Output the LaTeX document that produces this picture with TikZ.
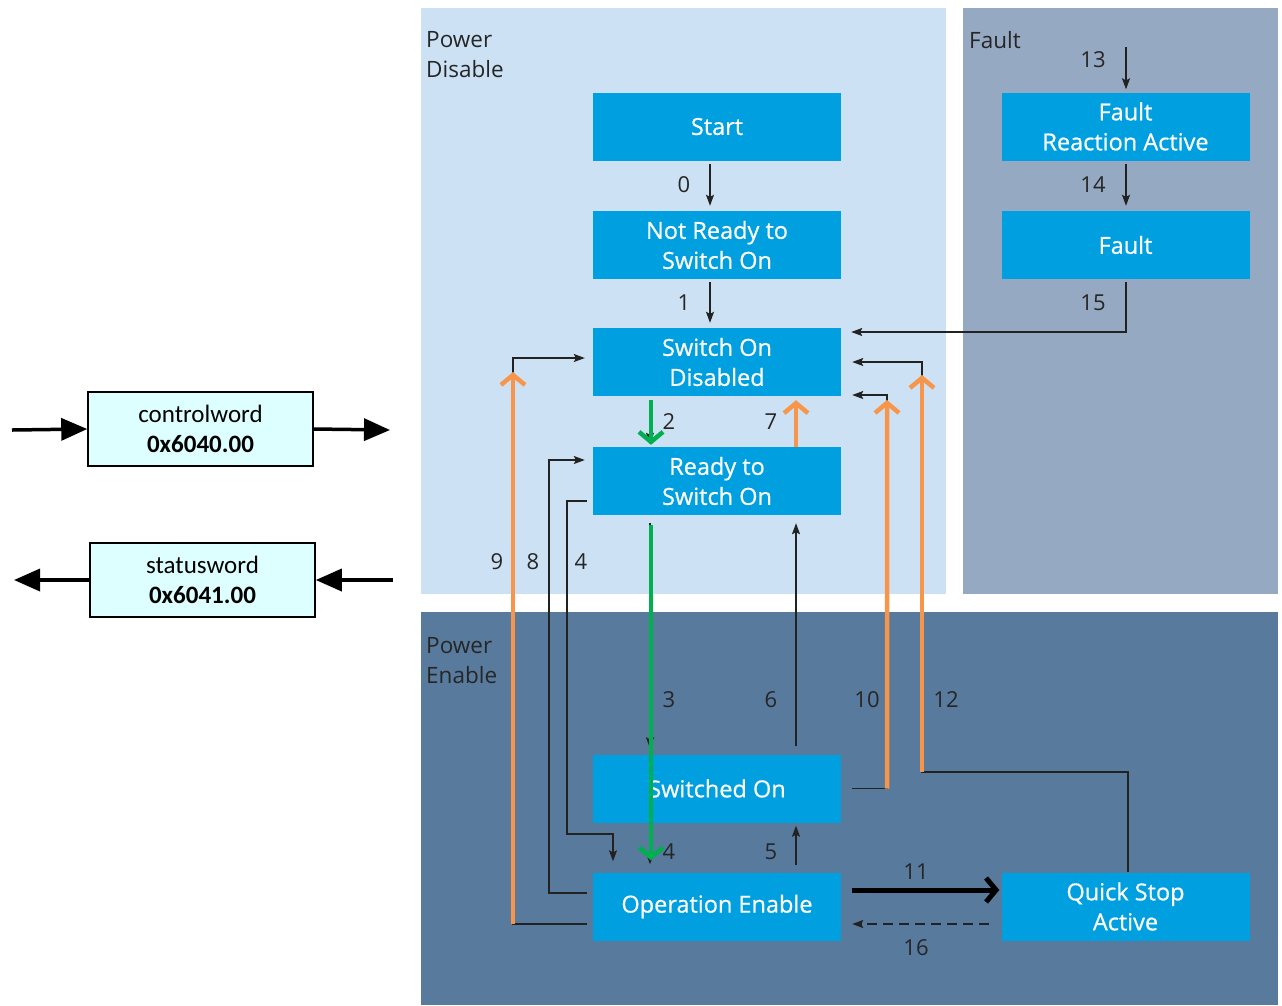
\documentclass[tikz,border=0pt]{standalone}
\usepackage{fontspec}
\setmainfont{Open Sans}
\newfontfamily\stfont{Open Sans}[FakeBold=0.6]
\newfontfamily\calibri{Carlito}
\usetikzlibrary{arrows.meta,positioning}
\definecolor{pdis}{HTML}{CCE2F4}
\definecolor{pflt}{HTML}{96A9C2}
\definecolor{pena}{HTML}{587A9D}
\definecolor{stblue}{HTML}{009FDF}
\definecolor{trorange}{HTML}{F7964A}
\definecolor{trgreen}{HTML}{00B050}
\definecolor{wordfill}{HTML}{DDFFFF}
\definecolor{trline}{HTML}{222222}
\tikzset{
  % zustaende
  st/.style={fill=stblue,text=white,minimum width=248pt,minimum height=68pt,
             inner sep=0pt,align=center,font=\stfont\fontsize{23.5}{30}\selectfont},
  panel/.style={inner sep=0pt,anchor=north west,align=left,
                font=\fontsize{22.5}{30}\selectfont,text=black!85},
  num/.style={inner sep=0pt,font=\fontsize{22}{28}\selectfont,text=black!85},
  % uebergaenge
  tr/.style={-{Stealth[length=11pt,width=8pt,inset=2pt]},draw=trline,line width=1.3pt},
  hot/.style={-{Straight Barb[length=10pt,width=24pt]},draw=trorange,line width=4.5pt},
  go/.style={-{Straight Barb[length=10pt,width=24pt]},draw=trgreen,line width=4.5pt},
  % objekte
  word/.style={draw=black,line width=1.5pt,fill=wordfill,minimum width=225pt,
               minimum height=74pt,inner sep=0pt,align=center,
               font=\calibri\fontsize{25}{30}\selectfont},
  io/.style={-{Triangle[length=26pt,width=22pt]},line width=3.5pt},
}
\begin{document}
\begin{tikzpicture}[x=1pt,y=-1pt]
  \useasboundingbox (0,0) rectangle (1282,1005);
  \fill[white] (0,0) rectangle (1282,1005);
  \fill[pdis] (421,8) rectangle (946,594);
  \fill[pflt] (963,8) rectangle (1278,594);
  \fill[pena] (421,612) rectangle (1278,1005);
  \node[panel] (lpd) at (426,31) {Power\\Disable};
  \node[panel] (lflt) at (969,31) {Fault};
  \node[panel] (lpe) at (426,637) {Power\\Enable};

  \node[st] (start) at (717,126.5) {Start};
  \node[st] (nrdy) at (717,245) {Not Ready to\\Switch On};
  \node[st] (sod) at (717,362) {Switch On\\Disabled};
  \node[st] (rtso) at (717,481) {Ready to\\Switch On};
  \node[st] (swon) at (717,788.5) {Switched On};
  \node[st] (opena) at (717,906.5) {Operation Enable};
  \node[st] (fra) at (1125.5,126.5) {Fault\\Reaction Active};
  \node[st] (flt) at (1125.5,245) {Fault};
  \node[st] (qsa) at (1125.5,906.5) {Quick Stop\\Active};

  \coordinate (in13) at (1126,47);
  \coordinate (k12) at (922,772);
  \coordinate (t12) at (922,362);
  \coordinate (k10) at (887,395);
  \coordinate (k9) at (513,358);
  \coordinate (b9) at (513,924);
  \coordinate (k8) at (549,460);
  \coordinate (k4) at (567,834);

  \draw[tr,shorten <=3pt,shorten >=5pt] ([xshift=-7pt]start.south) -- ([xshift=-7pt]nrdy.north);
  \draw[tr,shorten <=3pt,shorten >=5pt] ([xshift=-7pt]nrdy.south) -- ([xshift=-7pt]sod.north);
  \draw[tr,shorten >=3pt] (in13) -- ([xshift=0.5pt]fra.north);
  \draw[tr,shorten <=3pt,shorten >=5pt] ([xshift=0.5pt]fra.south) -- ([xshift=0.5pt]flt.north);
  \draw[tr,shorten <=3pt,shorten >=10pt] ([xshift=0.5pt]flt.south) |- ([yshift=30pt]sod.east);
  \draw[tr,shorten <=4pt,shorten >=3pt] ([xshift=-67pt]sod.south) -- ([xshift=-67pt]rtso.north);
  \draw[tr,shorten <=8pt,shorten >=6pt] ([xshift=-67pt]rtso.south) -- ([xshift=-67pt]swon.north);
  \draw[tr,shorten <=8pt,shorten >=8pt] ([xshift=79pt]swon.north) -- ([xshift=79pt]rtso.south);
  \draw[tr,shorten >=8pt] ([xshift=-67pt]swon.south) -- ([xshift=-67pt]opena.north);
  \draw[tr,shorten <=7pt,shorten >=3pt] ([xshift=79pt]opena.north) -- ([xshift=79pt]swon.south);
  \draw[tr,shorten >=11pt] ([xshift=2.5pt]qsa.north) |- (k12) |- (sod.east);
  \draw[tr,shorten <=11pt,shorten >=11pt] (swon.east) -| (k10) -- ([yshift=-33pt]sod.east);
  \draw[tr,shorten <=6pt,shorten >=8pt] ([yshift=-17.5pt]opena.west) -| (k9) -- ([yshift=4pt]sod.west);
  \draw[tr,shorten <=6pt,shorten >=8pt] ([yshift=13.5pt]opena.west) -| (k8) -- ([yshift=21pt]rtso.west);
  \draw[tr,shorten <=6pt,shorten >=11pt] ([yshift=-20pt]rtso.west) -| (k4) -| ([xshift=-104pt]opena.north);
  \draw[line width=5pt,-{Straight Barb[length=10pt,width=24pt]},shorten <=11pt,shorten >=2pt]
    ([yshift=16.5pt]opena.east) -- ([yshift=16.5pt]qsa.west);
  \draw[tr,dash pattern=on 10pt off 6pt,shorten <=12pt,shorten >=11pt]
    ([yshift=-17.5pt]qsa.west) -- ([yshift=-17.5pt]opena.east);

  \draw[hot,shorten >=4pt] ([xshift=79pt]rtso.north) -- ([xshift=79pt]sod.south);
  \draw[hot,shorten >=13pt] (k12) -- (t12);
  \draw[hot,shorten >=5pt] ([xshift=46pt]swon.east) -- (k10);
  \draw[hot,shorten >=14pt] (b9) -- (k9);
  \draw[go,shorten <=4pt,shorten >=2pt] ([xshift=-66pt]sod.south) -- ([xshift=-66pt]rtso.north);
  \draw[go,shorten <=10pt,shorten >=12pt] ([xshift=-66pt]rtso.south) -- ([xshift=-66pt]opena.north);

  \node[num] (n0) at (684,185) {0};
  \node[num] (n1) at (684,303) {1};
  \node[num] (n13) at (1093,60) {13};
  \node[num] (n14) at (1093,185) {14};
  \node[num] (n15) at (1093,303) {15};
  \node[num] (n2) at (669,422) {2};
  \node[num] (n7) at (771,422) {7};
  \node[num] (n9) at (497,562) {9};
  \node[num] (n8) at (533,562) {8};
  \node[num] (n4a) at (581,562) {4};
  \node[num] (n3) at (669,700) {3};
  \node[num] (n6) at (771,700) {6};
  \node[num] (n10) at (867,700) {10};
  \node[num] (n12) at (946,700) {12};
  \node[num] (n4b) at (669,852) {4};
  \node[num] (n5) at (771,852) {5};
  \node[num] (n11) at (916,872) {11};
  \node[num] (n16) at (916,948) {16};

  \node[word] (cw) at (200.5,429) {controlword\\\textbf{0x6040.00}};
  \node[word] (sw) at (202.5,580) {statusword\\\textbf{0x6041.00}};
  \coordinate (cwin) at (12,430);
  \coordinate (cwout) at (390,430);
  \coordinate (swin) at (393,580);
  \coordinate (swout) at (14,580);
  \draw[io] (cwin) -- (cw.west);
  \draw[io] (cw.east) -- (cwout);
  \draw[io] (swin) -- (sw.east);
  \draw[io] (sw.west) -- (swout);
\end{tikzpicture}
\end{document}
